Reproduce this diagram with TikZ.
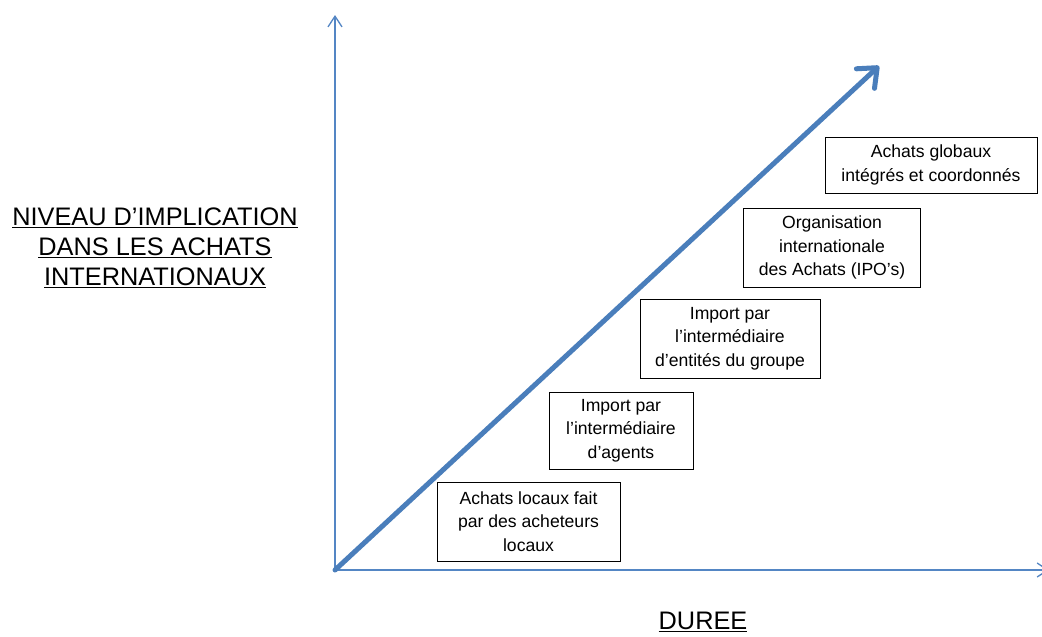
\documentclass[tikz,border=0pt]{standalone}
\usepackage{fontspec}
\setmainfont{Liberation Sans}
\usetikzlibrary{arrows.meta}

\definecolor{axisblue}{RGB}{84,134,196}
\definecolor{arrowblue}{RGB}{74,126,187}

\tikzset{every picture/.style={line width=0.75pt}}
\tikzset{
	etape/.style={draw=black, line width=0.75pt, inner sep=0.75pt, align=center,
		font=\fontsize{13.2}{17.5}\selectfont},
	titre/.style={inner sep=0.75pt, align=center, font=\fontsize{19}{22.5}\selectfont},
	axe/.style={draw=axisblue, line width=1pt, -{Straight Barb[length=8pt,width=10.5pt]}},
}

\begin{document}
\begin{tikzpicture}[x=0.75pt,y=0.75pt,yscale=-1,xscale=1]
		%set diagram at 1042 x 636
		\clip (0,0) rectangle (1042,636);

		% Axes
		\coordinate (origine) at (335,570);
		\coordinate (haut) at (335,15);
		\coordinate (droite) at (1049,570);
		\draw [axe] (origine) -- (haut) ;
		\draw [axe] (origine) -- (droite) ;

		% Big arrow
		\coordinate (pointe) at (879,66);
		\draw [draw=arrowblue, line width=3.75pt, line cap=round, -{Straight Barb[length=12pt,width=20pt,line cap=round,line join=round]}] (origine) -- (pointe) ;

		% Text Node
		\node (etape1) [etape, minimum width=183*0.75pt, minimum height=79*0.75pt] at (528.5,521.5) {Achats locaux fait\\par des acheteurs\\locaux};
		% Text Node
		\node (etape2) [etape, minimum width=144*0.75pt, minimum height=77*0.75pt] at (621,430.5) {Import par\\l’intermédiaire\\d’agents};
		% Text Node
		\node (etape3) [etape, minimum width=180*0.75pt, minimum height=79*0.75pt] at (730,338.5) {Import par\\l’intermédiaire\\d’entités du groupe};
		% Text Node
		\node (etape4) [etape, minimum width=177*0.75pt, minimum height=79*0.75pt] at (832,247.5) {Organisation\\internationale\\des Achats (IPO’s)};
		% Text Node
		\node (etape5) [etape, minimum width=212*0.75pt, minimum height=56*0.75pt] at (931,165) {Achats globaux\\intégrés et coordonnés};

		% Text Node
		\node (niveau) [titre] at (155,248) {\underline{NIVEAU D’IMPLICATION}\\\underline{DANS LES ACHATS}\\\underline{INTERNATIONAUX}};
		% Text Node
		\node (duree) [titre] at (703,622) {\underline{DUREE}};

	\end{tikzpicture}
\end{document}
